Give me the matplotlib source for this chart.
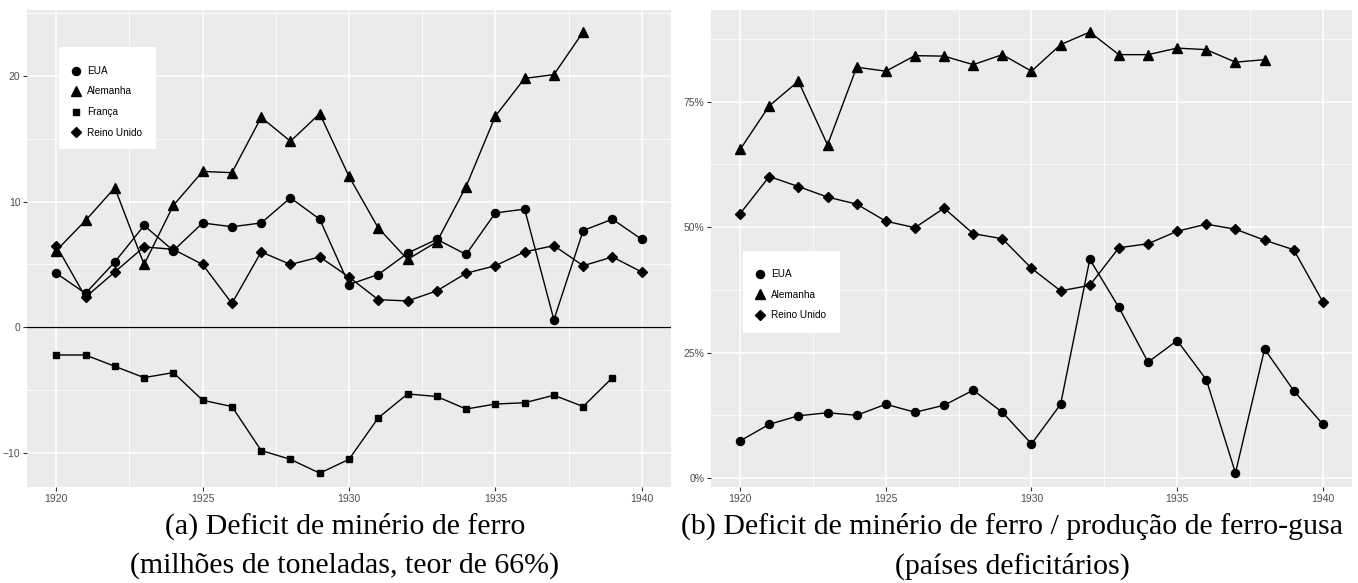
import matplotlib
matplotlib.use('Agg')
import matplotlib.pyplot as plt
from matplotlib.lines import Line2D
from matplotlib.patches import Rectangle
from matplotlib.ticker import MultipleLocator, FuncFormatter

# ---------------------------------------------------------------------------
# Data
# ---------------------------------------------------------------------------

years = list(range(1920, 1941))

# (a) deficit, millions of tonnes (66% ore)
eua_def = [4.3, 2.7, 5.2, 8.1, 6.1, 8.3, 8.0, 8.3, 10.3, 8.6, 3.4,
           4.2, 5.9, 7.0, 5.8, 9.1, 9.4, 0.6, 7.7, 8.6, 7.0]
ale_def = [6.1, 8.5, 11.1, 5.0, 9.7, 12.4, 12.3, 16.7, 14.8, 17.0, 12.0,
           7.9, 5.4, 6.8, 11.2, 16.8, 19.8, 20.1, 23.5]
fra_def = [-2.2, -2.2, -3.1, -4.0, -3.6, -5.8, -6.3, -9.8, -10.5, -11.6, -10.5,
           -7.2, -5.3, -5.5, -6.5, -6.1, -6.0, -5.4, -6.3, -4.0]
ru_def = [6.5, 2.4, 4.4, 6.4, 6.2, 5.0, 1.9, 6.0, 5.0, 5.6, 4.0,
          2.2, 2.1, 2.9, 4.3, 4.9, 6.0, 6.5, 4.9, 5.6, 4.4]

# (b) deficit / pig iron production, %
eua_pct = [7.4, 10.7, 12.4, 13.0, 12.5, 14.7, 13.1, 14.5, 17.5, 13.1, 6.8,
           14.7, 43.6, 34.0, 23.1, 27.4, 19.6, 1.0, 25.7, 17.4, 10.7]
ale_pct = [65.5, 74.2, 79.1, 66.4, 81.9, 81.1, 84.2, 84.1, 82.4, 84.4, 81.1,
           86.4, 88.9, 84.4, 84.4, 85.7, 85.4, 82.9, 83.4]
ru_pct = [52.7, 60.1, 58.1, 56.0, 54.6, 51.2, 49.9, 53.8, 48.7, 47.7, 41.8,
          37.3, 38.4, 45.9, 46.7, 49.2, 50.6, 49.6, 47.4, 45.5, 35.1]

caption_a = '(a) Deficit de minério de ferro\n(milhões de toneladas, teor de 66%)'
caption_b = '(b) Deficit de minério de ferro / produção de ferro-gusa\n(países deficitários)'

# ---------------------------------------------------------------------------
# Style
# ---------------------------------------------------------------------------

plt.rcParams['font.family'] = ['Liberation Sans', 'DejaVu Sans']

MARKERS = {'EUA': ('o', 5.8), 'Alemanha': ('^', 6.8), 'França': ('s', 5.0),
           'Reino Unido': ('D', 4.7)}
W, H = 1358, 583
TOP, BOTTOM = 10, 487   # panel edges in px


def style_axes(ax, ymajor, yminor):
    ax.set_facecolor('#EBEBEB')
    ax.xaxis.set_major_locator(MultipleLocator(5))
    ax.xaxis.set_minor_locator(MultipleLocator(2.5))
    ax.yaxis.set_major_locator(MultipleLocator(ymajor))
    ax.yaxis.set_minor_locator(MultipleLocator(yminor))
    ax.grid(which='major', color='white', lw=1.1, zorder=0)
    ax.grid(which='minor', color='white', lw=0.55, zorder=0)
    ax.set_axisbelow(True)
    for s in ax.spines.values():
        s.set_visible(False)
    ax.tick_params(which='major', length=2.7, width=0.8, color='#333333',
                   labelcolor='#4D4D4D', labelsize=7.5, pad=2)
    ax.tick_params(which='minor', length=0)
    ax.set_xlim(1919, 1941)


def plot_series(ax, name, values):
    m, ms = MARKERS[name]
    ax.plot(years[:len(values)], values, color='black', lw=1.0,
            marker=m, ms=ms, mfc='black', mec='black', zorder=3)


def add_legend(names, box_px, first_px):
    # white key box (figure px) drawn separately so padding matches ggplot
    x0, y0, x1, y1 = box_px
    fig.patches.append(Rectangle((x0 / W, 1 - y1 / H), (x1 - x0) / W, (y1 - y0) / H,
                                 transform=fig.transFigure, figure=fig,
                                 fc='white', ec='none', zorder=4))
    handles = [Line2D([], [], ls='none', marker=MARKERS[n][0], ms=MARKERS[n][1],
                      color='black') for n in names]
    leg = fig.legend(handles, names, loc='upper left',
                     bbox_to_anchor=(x0 / W, 1 - (first_px - 16) / H),
                     frameon=False, fontsize=7.2, handlelength=1.0,
                     handletextpad=0.6, labelspacing=1.05, borderpad=1.2,
                     borderaxespad=0)
    leg.set_zorder(5)


fig = plt.figure(figsize=(W / 100, H / 100), dpi=100)
ph = BOTTOM - TOP

# ── (a) ────────────────────────────────────────────────────────────────────
ax1 = fig.add_axes([27 / W, 1 - BOTTOM / H, 644 / W, ph / H])
style_axes(ax1, 10, 5)
ax1.axhline(0, color='black', lw=0.9, zorder=2)
plot_series(ax1, 'EUA', eua_def)
plot_series(ax1, 'Alemanha', ale_def)
plot_series(ax1, 'França', fra_def)
plot_series(ax1, 'Reino Unido', ru_def)
ax1.set_ylim(-12.7, 25.24)

# ── (b) ────────────────────────────────────────────────────────────────────
ax2 = fig.add_axes([711 / W, 1 - BOTTOM / H, 641 / W, ph / H])
style_axes(ax2, 25, 12.5)
plot_series(ax2, 'EUA', eua_pct)
plot_series(ax2, 'Alemanha', ale_pct)
plot_series(ax2, 'Reino Unido', ru_pct)
ax2.set_ylim(-1.8, 93.3)
ax2.yaxis.set_major_formatter(FuncFormatter(lambda v, p: f'{v:.0f}%'))

add_legend(['EUA', 'Alemanha', 'França', 'Reino Unido'], (59, 47, 156, 149), 70)
add_legend(['EUA', 'Alemanha', 'Reino Unido'], (742.7, 250.7, 840, 332.7), 273)

# ── captions ──────────────────────────────────────────────────────────────
for x, txt in [(345, caption_a), (1012, caption_b)]:
    fig.text(x / W, 1 - 546 / H, txt, ha='center', va='center',
             family='Liberation Serif', fontsize=21.5, linespacing=1.6)

fig.savefig('out.png', dpi=100)
